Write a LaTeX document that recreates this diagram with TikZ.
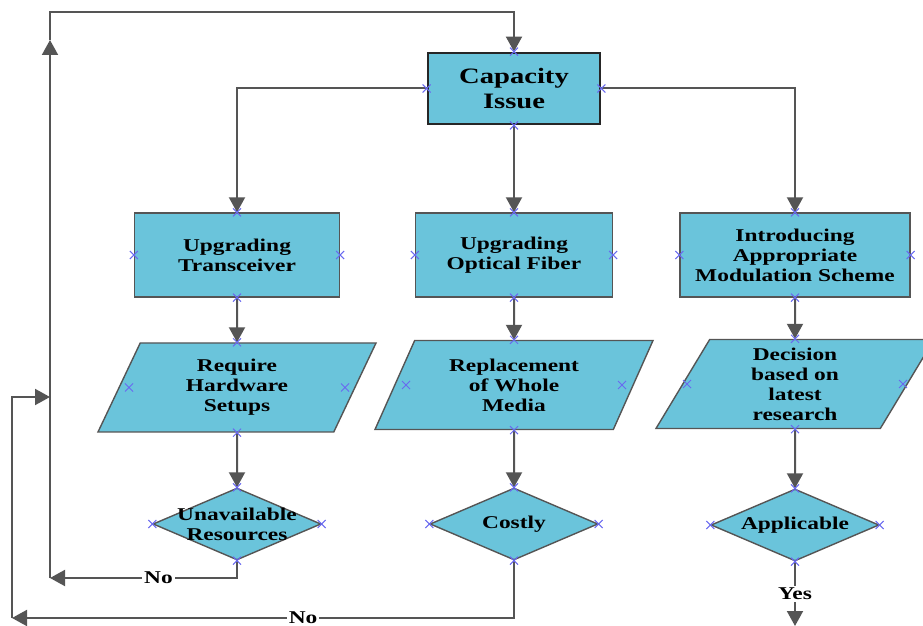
\documentclass[tikz,border=0pt]{standalone}
\usepackage{fontspec}
\setmainfont{Liberation Serif}[FakeStretch=1.3]
\usepackage{tikz}
\usetikzlibrary{arrows.meta,shapes.geometric,calc}

\definecolor{boxcyan}{RGB}{106,196,219}
\definecolor{linegray}{RGB}{85,85,85}
\definecolor{pinblue}{RGB}{105,105,240}
\newcommand{\lbl}{\fontsize{9}{10}\selectfont\bfseries}
% small connection cross at a point
\newcommand{\cross}[1]{%
  \draw[pinmark] #1 +(-2pt,-2pt) -- +(2pt,2pt) +(-2pt,2pt) -- +(2pt,-2pt);}

\begin{document}
\begin{tikzpicture}
[x=0.5pt,y=-0.5pt,
 topbox/.style={rectangle,draw=black!85,fill=boxcyan,line width=1.4pt,align=center,
   font=\fontsize{11}{12.5}\selectfont\bfseries,minimum width=86pt,minimum height=35.5pt},
 block/.style={rectangle,draw=linegray,fill=boxcyan,line width=0.7pt,align=center,font=\lbl,minimum height=42pt},
 io/.style={trapezium,trapezium left angle=55,trapezium right angle=125,trapezium stretches body,
   draw=linegray,fill=boxcyan,line width=0.7pt,align=center,font=\lbl,inner sep=1pt,
   minimum width=139pt,minimum height=44.5pt},
 decision/.style={diamond,draw=linegray,fill=boxcyan,line width=0.7pt,inner sep=0pt,
   minimum width=84pt,minimum height=36pt},
 flow/.style={draw=linegray,line width=1pt,-{Triangle[length=7.5pt,width=8pt]}},
 answer/.style={fill=white,font=\lbl,inner sep=1pt},
 pinmark/.style={draw=pinblue,line width=0.5pt}]
\useasboundingbox (0,0) rectangle (923,626);

\node[topbox] (capacity) at (514,88.5) {Capacity\\Issue};

\node[block,minimum width=102.5pt] (transceiver) at (237,255) {Upgrading\\Transceiver};
\node[block,minimum width=98.5pt] (fiber) at (514,255) {Upgrading\\Optical Fiber};
\node[block,minimum width=115pt] (modulation) at (795,255) {Introducing\\Appropriate\\Modulation Scheme};

\node[io] (hardware) at (237,387.5) {Require\\Hardware\\Setups};
\node[io] (media) at (514,385) {Replacement\\of Whole\\Media};
\node[io] (research) at (795,384) {Decision\\based on\\latest\\research};

\node[decision] (resources) at (237,524) [label={[align=center,font=\lbl]center:{Unavailable\\Resources}}] {};
\node[decision] (costly) at (514,524) [label={[font=\lbl]center:Costly}] {};
\node[decision] (applicable) at (795,525) [label={[font=\lbl]center:Applicable}] {};

\coordinate (noturn) at (50,578);
\coordinate (uptip) at (50,40);
\coordinate (topturn) at (50,12);
\coordinate (costturn) at (12,618);
\coordinate (rejoin) at (50,397);
\coordinate (yesend) at (795,626);

\draw[flow] (capacity.west) -| (transceiver.north);
\draw[flow] (capacity.south) -- (fiber.north);
\draw[flow] (capacity.east) -| (modulation.north);

\draw[flow] (transceiver.south) -- (hardware.north);
\draw[flow] (fiber.south) -- (media.north);
\draw[flow] (modulation.south) -- (research.north);

\draw[flow] (hardware.south) -- (resources.north);
\draw[flow] (media.south) -- (costly.north);
\draw[flow] (research.south) -- (applicable.north);

% return loops
\draw[flow] (resources.south) |- node[answer,pos=0.71] {No} (noturn);
\draw[flow] (noturn) -- (uptip);
\draw[flow] (uptip) -- (topturn) -| (capacity.north);
\draw[flow] (costly.south) |- node[answer,pos=0.71] {No} (costturn);
\draw[flow] (costturn) |- (rejoin);
\draw[flow] (applicable.south) -- node[answer] {Yes} (yesend);

% connection points
\foreach \n in {capacity,transceiver,fiber,modulation,resources,costly,applicable}
  \foreach \a in {north,south,east,west}
    \cross{(\n.\a)};
\foreach \n in {hardware,media,research} {
  \cross{(\n.north)}
  \cross{(\n.south)}
  \cross{($(\n.center)+(-108,0)$)}
  \cross{($(\n.center)+(108,0)$)}
}
\end{tikzpicture}
\end{document}
